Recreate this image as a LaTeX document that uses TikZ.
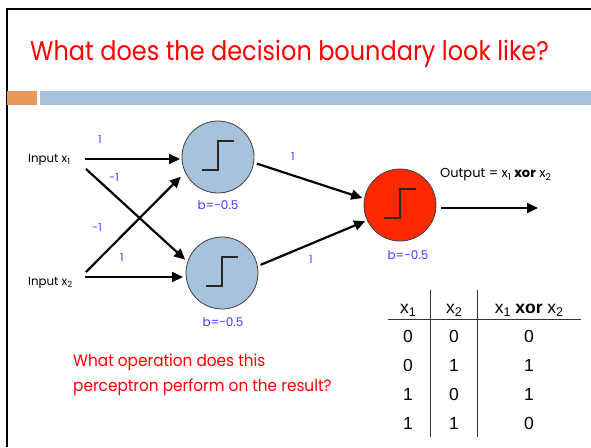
\documentclass[tikz,border=0pt]{standalone}
\usepackage{fontspec}
\setmainfont{Poppins}
\newfontfamily\tabfont{Liberation Sans}
\usetikzlibrary{arrows.meta}

\definecolor{headred}{RGB}{255,0,0}
\definecolor{wblue}{RGB}{60,60,255}
\definecolor{barorange}{RGB}{232,151,90}
\definecolor{barblue}{RGB}{166,195,219}
\definecolor{unitblue}{RGB}{166,195,219}
\definecolor{unitred}{RGB}{255,40,0}

% lowered, reduced index used in the labels
\newcommand\lowsub[1]{\raisebox{-0.35ex}{\scalebox{0.72}{#1}}}

\tikzset{
  unit/.style={circle, draw=black!75, line width=0.8pt, minimum size=72pt, inner sep=0pt},
  link/.style={line width=2.2pt, -{Triangle[length=11pt,width=10pt]}},
  wt/.style={text=wblue, font=\fontsize{11}{13}\selectfont, inner sep=0pt},
  bias/.style={text=wblue, font=\fontsize{12}{14}\selectfont, inner sep=0pt},
  lbl/.style={font=\fontsize{11.8}{13}\selectfont, inner sep=0pt},
  stepfn/.style={line width=1.2pt, black!85},
  tab/.style={font=\tabfont\fontsize{17.5}{19}\selectfont, inner sep=0pt, anchor=base},
  rule/.style={line width=1pt, black!80},
}

\begin{document}
\begin{tikzpicture}[x=1pt,y=-1pt]
\useasboundingbox (0,0) rectangle (591,447);

% slide frame and header bars
\draw[line width=2pt] (7,447) -- (7,8.5) -- (591,8.5);
\fill[barorange] (7,91) rectangle (37,105);
\fill[barblue] (40,91) rectangle (591,105);

\node[text=headred, font=\fontsize{24}{26}\selectfont, anchor=base west, inner sep=0pt]
  (title) at (30,60) {\scalebox{1}[1.12]{What does the decision boundary look like?}};

% units
\node[unit, fill=unitblue] (h1) at (218,157) {};
\node[unit, fill=unitblue] (h2) at (222,273) {};
\node[unit, fill=unitred]  (out) at (400,205) {};

% step functions inside the units
\foreach \u in {h1,h2,out}{
  \draw[stepfn] ([shift={(-16pt,-13pt)}]\u.center) -- ++(16pt,0) -- ++(0,29pt) -- ++(16pt,0);
}

% inputs
\node[lbl, anchor=west] (in1) at (28,160) {Input x\lowsub{1}};
\node[lbl, anchor=west] (in2) at (28,283) {Input x\lowsub{2}};
\coordinate (s1a) at (85,159);
\coordinate (s1b) at (86,169);
\coordinate (s2a) at (86,272);
\coordinate (s2b) at (85,277);
\coordinate (oend) at (538,208);

% connections
\draw[link] (s1a) -- (180,159);
\draw[link, shorten >=3pt] (s1b) -- (h2.162);
\draw[link, shorten >=6pt] (s2a) -- (h1.205);
\draw[link] (s2b) -- (183,277);
\draw[link, shorten <=3pt, shorten >=2pt] (h1.-9) -- (out.170);
\draw[link, shorten <=3pt, shorten >=2pt] (h2.11) -- (out.205);
\draw[link] ([xshift=5pt]out.east |- oend) -- (oend);

% weights
\node[wt] (w11) at (100,140) {1};
\node[wt] (w12) at (114,178) {-1};
\node[wt] (w21) at (97,228) {-1};
\node[wt] (w22) at (122,258) {1};
\node[wt] (v1) at (293,157) {1};
\node[wt] (v2) at (311,260) {1};

% biases
\node[bias] (b1) at (218,205) {b=-0.5};
\node[bias] (b2) at (223,322) {b=-0.5};
\node[bias] (b3) at (408,255) {b=-0.5};

\node[lbl, font=\fontsize{13}{14}\selectfont, anchor=west] (outlbl) at (440,175) {Output = x\lowsub{1} \textbf{xor} x\lowsub{2}};

% question
\node[text=headred, font=\fontsize{15.3}{25}\selectfont, anchor=base west, inner sep=0pt, align=left]
  (q) at (73,391) {\scalebox{1}[1.08]{What operation does this}\\\scalebox{1}[1.08]{perceptron perform on the result?}};

% truth table
\draw[rule] (388,319) -- (581,319);
\draw[rule] (430,290) -- (430,437);
\draw[rule] (477,290) -- (477,437);
\node[tab] (hx1) at (408,313) {x\lowsub{1}};
\node[tab] (hx2) at (454,313) {x\lowsub{2}};
\node[tab] (hxr) at (529,313) {x\lowsub{1} \textbf{xor} x\lowsub{2}};
\foreach \a/\b/\c [count=\i] in {0/0/0,0/1/1,1/0/1,1/1/0}{
  \pgfmathsetmacro{\yy}{342+29*(\i-1)}
  \node[tab] (ra\i) at (408,\yy) {\a};
  \node[tab] (rb\i) at (454,\yy) {\b};
  \node[tab] (rc\i) at (529,\yy) {\c};
}
\end{tikzpicture}
\end{document}
